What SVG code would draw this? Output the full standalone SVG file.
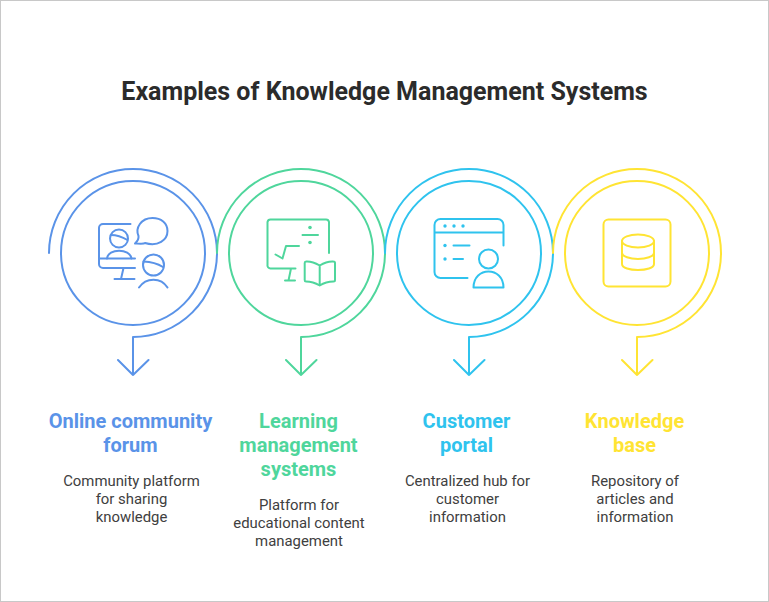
<svg xmlns="http://www.w3.org/2000/svg" width="769" height="602" viewBox="0 0 769 602">
<style>
.s{fill:none;stroke-width:2;stroke-linecap:round;stroke-linejoin:round}
.i{fill:none;stroke-width:2;stroke-linecap:round;stroke-linejoin:round}
text{font-family:Roboto,"Liberation Sans",sans-serif;text-anchor:middle}
.t{font-size:25px;font-weight:700;fill:#2b2b2b}
.h{font-size:20px;font-weight:700}
.d{font-size:14.900px;fill:#404040}
.b{stroke:#5a93e8}.g{stroke:#4fd69c}.c{stroke:#2fc3ee}.y{stroke:#ffe433}
.dot{stroke:none}
</style>
<rect x="0.5" y="0.5" width="768" height="601" fill="#fff" stroke="#c8c8c8"/>
<text class="t" x="384.500" y="100">Examples of Knowledge Management Systems</text>
<g id="connectors">
<path class="s b" d="M49 253A84 84 0 1 1 133 337V375M118 360L133 375L148.500 360"/>
<path class="s g" d="M217 253A84 84 0 1 1 301 337V375M286 360L301 375L316.500 360"/>
<path class="s c" d="M385 253A84 84 0 1 1 469 337V375M454 360L469 375L484.500 360"/>
<path class="s y" d="M553 253A84 84 0 1 1 637 337V375M622 360L637 375L652.500 360"/>
</g>
<g id="node-forum">
<circle class="s b" cx="133" cy="253" r="72"/>
<g class="i b">
<path d="M130.500 224H103A4 4 0 0 0 99 228V264A4 4 0 0 0 103 268H135M99 258.500H135M123.500 268L121 279M114.500 279H134.500"/>
<circle cx="119" cy="238.500" r="9"/><path d="M111 235Q119 235 127.500 240"/>
<path d="M107 258.500C108 248 130 248 131.500 258.500"/>
<path d="M137 243.500Q144 244 145 243C158 247 167.500 240 167.500 231C167.500 223 161 218 152.500 218C141 218 135 228 138.500 236Q139 240 135 243.500Z"/>
<circle cx="153.500" cy="265" r="10.500"/><path d="M143.500 261.500Q155 262 163 267"/>
<path d="M139 287.500C146 277 161 277 167.500 287.500"/>
</g>
<text class="h" fill="#5a93e8"><tspan x="130.500" y="428">Online community</tspan><tspan x="130.500" y="452">forum</tspan></text>
<text class="d"><tspan x="131.500" y="486">Community platform</tspan><tspan x="131.500" y="504">for sharing</tspan><tspan x="131.500" y="522">knowledge</tspan></text>
</g>
<g id="node-lms">
<circle class="s g" cx="301" cy="253" r="72"/>
<g class="i g">
<path d="M329 253V222A3 3 0 0 0 326 219.500H270.500A3 3 0 0 0 267.500 222V265A3 3 0 0 0 270.500 268.500H295.500M291 268.500L288.500 280.500M285 280.500H295M302.500 235H318M275.500 254.500L282.500 258.500L286 246H299"/>
<path d="M319.700 265.500Q312 261 306 261.500Q304.700 261.500 304.700 263V280Q304.700 281.500 306 281.500Q313 281.500 319.700 285.500Q326 281.500 333.500 281.500Q335 281.500 335 280V263Q335 261.500 333.500 261.500Q327 261 319.700 265.500V285.500"/>
</g>
<circle class="dot" fill="#4fd69c" cx="310" cy="227.500" r="1.800"/><circle class="dot" fill="#4fd69c" cx="310" cy="242.500" r="1.800"/>
<text class="h" fill="#4fd69c"><tspan x="298.500" y="428">Learning</tspan><tspan x="298.500" y="452">management</tspan><tspan x="298.500" y="476">systems</tspan></text>
<text class="d"><tspan x="299" y="510">Platform for</tspan><tspan x="299" y="528">educational content</tspan><tspan x="299" y="546">management</tspan></text>
</g>
<g id="node-portal">
<circle class="s c" cx="469" cy="253" r="72"/>
<g class="i c">
<path d="M503.500 245.500V225A6 6 0 0 0 497.500 219H440.500A6 6 0 0 0 434.500 225V272A6 6 0 0 0 440.500 278H467.500M434.500 232.500H503.500M453.500 245.500H469.500M453.500 259H463"/>
<circle cx="488.500" cy="259" r="9.500"/>
<path d="M473.500 287.500C473.500 266 503.500 266 503.500 287.500Z"/>
</g>
<g fill="#2fc3ee"><circle class="dot" cx="445" cy="226" r="1.700"/><circle class="dot" cx="454" cy="226" r="1.700"/><circle class="dot" cx="463" cy="226" r="1.700"/><circle class="dot" cx="445" cy="245.500" r="1.700"/><circle class="dot" cx="445" cy="259" r="1.700"/></g>
<text class="h" fill="#2fc3ee"><tspan x="466.500" y="428">Customer</tspan><tspan x="466.500" y="452">portal</tspan></text>
<text class="d"><tspan x="467.500" y="486">Centralized hub for</tspan><tspan x="467.500" y="504">customer</tspan><tspan x="467.500" y="522">information</tspan></text>
</g>
<g id="node-kb">
<circle class="s y" cx="637" cy="253" r="72"/>
<g class="i y">
<rect x="603.500" y="219.500" width="67" height="67" rx="5"/>
<ellipse cx="638" cy="241" rx="16" ry="6.500"/>
<path d="M622 241V264C622 272 654 272 654 264V241M622 252.500C622 261 654 261 654 252.500"/>
</g>
<text class="h" fill="#ffe433"><tspan x="634.500" y="428">Knowledge</tspan><tspan x="634.500" y="452">base</tspan></text>
<text class="d"><tspan x="635" y="486">Repository of</tspan><tspan x="635" y="504">articles and</tspan><tspan x="635" y="522">information</tspan></text>
</g>
</svg>
